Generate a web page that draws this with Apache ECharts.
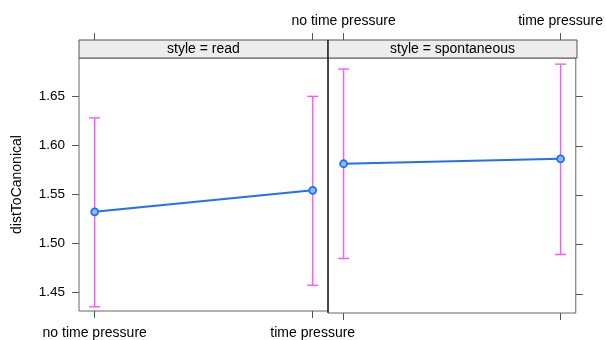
<!DOCTYPE html>
<html><head><meta charset="utf-8">
<script src="https://cdn.jsdelivr.net/npm/echarts@6/dist/echarts.min.js"></script>
<style>html,body{margin:0;padding:0;background:#fff}#c{width:606px;height:340px}</style>
</head><body><div id="c"></div>
<script>
const categories = ['no time pressure', 'time pressure'];
const panels = ['read', 'spontaneous'];
const readMean = [1.532, 1.554];
const readLower = [1.435, 1.457];
const readUpper = [1.628, 1.650];
const spontMean = [1.582, 1.587];
const spontLower = [1.486, 1.490];
const spontUpper = [1.678, 1.683];
const yTicks = [1.45, 1.50, 1.55, 1.60, 1.65];
const yTitle = 'distToCanonical';

const FONT = 'Liberation Sans, Arial, Helvetica, sans-serif';
const TICK = '#555';
const xPos = categories.map((c, i) => i + 1);
const means = [readMean, spontMean];
const lowers = [readLower, spontLower];
const uppers = [readUpper, spontUpper];

const grids = [
  {left: 79, top: 58, width: 249, height: 255, show: true, borderColor: '#666', borderWidth: 1, backgroundColor: 'transparent'},
  {left: 328, top: 58, width: 249, height: 255, show: true, borderColor: '#666', borderWidth: 1, backgroundColor: 'transparent'}
];

const xAxes = [];
const yAxes = [];
panels.forEach((p, g) => {
  // bottom axis
  xAxes.push({
    type: 'value', gridIndex: g, position: 'bottom', min: 0.928, max: 2.07,
    splitLine: {show: false}, axisLine: {show: false},
    axisTick: {show: true, length: 7, customValues: xPos, lineStyle: {color: TICK}},
    axisLabel: {show: g === 0, customValues: xPos, margin: 15, color: '#000', fontSize: 14, fontFamily: FONT,
      formatter: v => categories[Math.round(v) - 1] || ''}
  });
  // top axis
  xAxes.push({
    type: 'value', gridIndex: g, position: 'top', offset: 18, min: 0.928, max: 2.07,
    splitLine: {show: false}, axisLine: {show: false},
    axisTick: {show: true, length: 7, customValues: xPos, lineStyle: {color: TICK}},
    axisLabel: {show: g === 1, customValues: xPos, margin: 12, color: '#000', fontSize: 14, fontFamily: FONT,
      formatter: v => categories[Math.round(v) - 1] || ''}
  });
  yAxes.push({
    type: 'value', gridIndex: g, position: g === 0 ? 'left' : 'right', min: 1.4307, max: 1.6892,
    splitLine: {show: false}, axisLine: {show: false},
    axisTick: {show: true, length: 7, customValues: yTicks, lineStyle: {color: TICK}},
    axisLabel: {show: g === 0, customValues: yTicks, margin: 14, color: '#000', fontSize: 13.5, fontFamily: FONT,
      formatter: v => v.toFixed(2)},
    name: g === 0 ? yTitle : '', nameLocation: 'middle', nameGap: 55, nameRotate: 90,
    nameTextStyle: {color: '#000', fontSize: 14, fontFamily: FONT}
  });
});

function errRender(params, api) {
  const x = api.value(0);
  const lo = api.coord([x, api.value(1)]);
  const hi = api.coord([x, api.value(2)]);
  const w = 5.5;
  const st = {stroke: '#ff55ff', lineWidth: 1.4};
  return {type: 'group', children: [
    {type: 'line', shape: {x1: lo[0], y1: lo[1], x2: hi[0], y2: hi[1]}, style: st},
    {type: 'line', shape: {x1: lo[0] - w, y1: lo[1], x2: lo[0] + w, y2: lo[1]}, style: st},
    {type: 'line', shape: {x1: hi[0] - w, y1: hi[1], x2: hi[0] + w, y2: hi[1]}, style: st}
  ]};
}

const series = [];
panels.forEach((p, g) => {
  series.push({
    type: 'custom', xAxisIndex: g * 2, yAxisIndex: g, renderItem: errRender,
    encode: {x: 0, y: [1, 2]}, silent: true,
    data: xPos.map((x, i) => [x, lowers[g][i], uppers[g][i]])
  });
  series.push({
    type: 'line', xAxisIndex: g * 2, yAxisIndex: g,
    data: xPos.map((x, i) => [x, means[g][i]]),
    symbol: 'circle', symbolSize: 7, showSymbol: true,
    lineStyle: {color: '#1f70f5', width: 2},
    itemStyle: {color: '#8cbcff', borderColor: '#1f70f5', borderWidth: 1.8},
    animation: false, silent: true
  });
});

const chart = echarts.init(document.getElementById('c'), null, {renderer: 'canvas'});
chart.setOption({
  animation: false,
  grid: grids,
  xAxis: xAxes,
  yAxis: yAxes,
  series: series,
  graphic: [
    {type: 'rect', shape: {x: 79, y: 40, width: 249, height: 18}, style: {fill: '#ededed', stroke: '#555', lineWidth: 1}, z: 10},
    {type: 'rect', shape: {x: 328, y: 40, width: 249, height: 18}, style: {fill: '#ededed', stroke: '#555', lineWidth: 1}, z: 10},
    {type: 'text', x: 79 + 124.5, y: 49, style: {text: 'style = ' + panels[0], fill: '#000', font: '14px ' + FONT, align: 'center', verticalAlign: 'middle'}, z: 11},
    {type: 'text', x: 328 + 124.5, y: 49, style: {text: 'style = ' + panels[1], fill: '#000', font: '14px ' + FONT, align: 'center', verticalAlign: 'middle'}, z: 11},
    {type: 'line', shape: {x1: 328, y1: 40, x2: 328, y2: 313}, style: {stroke: '#000', lineWidth: 1}, z: 12}
  ]
});
</script></body></html>
